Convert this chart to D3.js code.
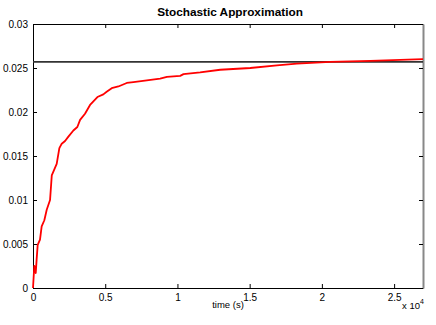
<!DOCTYPE html>
<html><head><meta charset="utf-8">
<script src="https://cdn.jsdelivr.net/npm/d3@7"></script>
<style>body{margin:0;background:#fff}svg{display:block}text{font-family:"Liberation Sans",Arial,sans-serif}</style>
</head><body><svg id="c" width="436" height="325"></svg>
<script>
const timeSec = [0,90,190,250,325,485,600,785,950,1180,1300,1455,1640,1825,1990,2220,2450,2795,3070,3260,3600,3950,4180,4460,4870,5100,5450,5910,6490,6950,7880,8800,9270,10190,10420,11570,12960,15040,16890,18270,20580,23350,27000];
const approxValue = [0,0.0025,0.0017,0.0032,0.0049,0.0055,0.0070,0.0077,0.0089,0.0100,0.0128,0.0134,0.0141,0.0159,0.0164,0.0167,0.0172,0.0179,0.0183,0.0191,0.0198,0.0208,0.0212,0.0217,0.0220,0.0223,0.0227,0.0229,0.0233,0.0234,0.0236,0.0238,0.0240,0.0241,0.0243,0.0245,0.0248,0.0250,0.0253,0.0255,0.0257,0.0258,0.0260];
const trueValue = 0.0257;
const xTicks = [0,5000,10000,15000,20000,25000];
const xTickLabels = ["0","0.5","1","1.5","2","2.5"];
const yTicks = [0,0.005,0.01,0.015,0.02,0.025,0.03];
const yTickLabels = ["0","0.005","0.01","0.015","0.02","0.025","0.03"];

const W=436,H=325,m={l:33,r:13,t:24,b:37};
const svg=d3.select("#c");
const x=d3.scaleLinear().domain([0,27000]).range([m.l,W-m.r]);
const y=d3.scaleLinear().domain([0,0.03]).range([H-m.b,m.t]);

const xb=svg.append("g").attr("transform",`translate(0,${H-m.b})`)
  .call(d3.axisBottom(x).tickValues(xTicks).tickFormat((d,i)=>xTickLabels[i]).tickSizeInner(-4).tickSizeOuter(0).tickPadding(6));
const xt=svg.append("g").attr("transform",`translate(0,${m.t})`)
  .call(d3.axisTop(x).tickValues(xTicks).tickFormat("").tickSizeInner(-4).tickSizeOuter(0));
const yl=svg.append("g").attr("transform",`translate(${m.l},0)`)
  .call(d3.axisLeft(y).tickValues(yTicks).tickFormat((d,i)=>yTickLabels[i]).tickSizeInner(-4).tickSizeOuter(0).tickPadding(5));
const yr=svg.append("g").attr("transform",`translate(${W-m.r},0)`)
  .call(d3.axisRight(y).tickValues(yTicks).tickFormat("").tickSizeInner(-4).tickSizeOuter(0));
svg.selectAll(".domain").attr("stroke","#000").attr("stroke-width",1);
svg.selectAll(".tick line").attr("stroke","#000");
svg.selectAll(".tick text").attr("font-size","10px").attr("fill","#000").attr("font-family","'Liberation Sans',Arial,sans-serif");
yr.select(".domain").attr("stroke","#888").attr("stroke-width",2);

svg.append("line").attr("x1",x(0)).attr("x2",x(27000)).attr("y1",y(trueValue)).attr("y2",y(trueValue))
  .attr("stroke","#333").attr("stroke-width",1.6);
svg.append("path").datum(timeSec.map((t,i)=>[t,approxValue[i]]))
  .attr("d",d3.line().x(d=>x(d[0])).y(d=>y(d[1])))
  .attr("fill","none").attr("stroke","#f00").attr("stroke-width",1.8).attr("stroke-linejoin","round");

svg.append("text").attr("x",(m.l+W-m.r)/2+2).attr("y",16).attr("text-anchor","middle")
  .attr("font-size","11.8px").attr("font-weight","bold").text("Stochastic Approximation");
svg.append("text").attr("x",(m.l+W-m.r)/2).attr("y",308).attr("text-anchor","middle")
  .attr("font-size","9.5px").text("time (s)");
const e=svg.append("text").attr("x",402).attr("y",309).attr("font-size","9.5px");
e.append("tspan").text("x 10");
e.append("tspan").attr("dy",-5).attr("font-size","7px").text("4");
</script></body></html>
